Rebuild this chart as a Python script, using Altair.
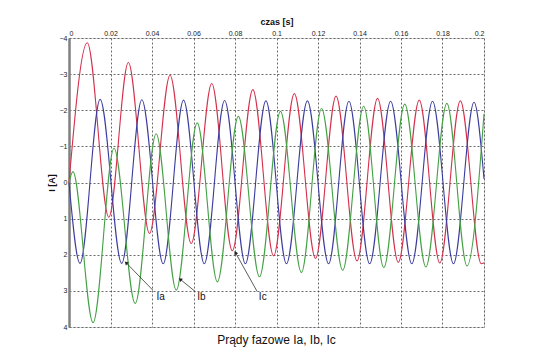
import altair as alt
import pandas as pd
import numpy as np

# ---- data (extrema of each phase current) ----
red_t = [0.0, 0.0088, 0.0192, 0.0286, 0.0388, 0.0487, 0.0589, 0.0688, 0.0787, 0.0886, 0.0986,
         0.1086, 0.1188, 0.1287, 0.1388, 0.1487, 0.1587, 0.1688, 0.1787, 0.1886, 0.1987, 0.2]
red_i = [0.0, -3.87, 0.96, -3.32, 1.41, -2.97, 1.69, -2.74, 1.89, -2.57, 2.03,
         -2.46, 2.10, -2.39, 2.17, -2.33, 2.21, -2.28, 2.23, -2.26, 2.25, 2.22]

blue_t = [0.0, 0.0053, 0.0150, 0.0254, 0.0351, 0.0454, 0.0552, 0.0652, 0.0750, 0.0850, 0.0949,
          0.1048, 0.1149, 0.1251, 0.1349, 0.1449, 0.1550, 0.1652, 0.1752, 0.1853, 0.1952, 0.2]
blue_i = [0.0, 2.24, -2.30, 2.24, -2.29, 2.25, -2.28, 2.25, -2.27, 2.25, -2.26,
          2.25, -2.26, 2.25, -2.25, 2.25, -2.25, 2.25, -2.25, 2.25, -2.22, -0.10]

green_t = [0.0, 0.0019, 0.0116, 0.0217, 0.0319, 0.0420, 0.0517, 0.0618, 0.0715, 0.0816, 0.0918,
           0.1019, 0.1120, 0.1217, 0.1319, 0.1420, 0.1517, 0.1618, 0.1720, 0.1821, 0.1918, 0.2]
green_i = [0.0, -0.30, 3.88, -0.95, 3.35, -1.35, 2.98, -1.65, 2.75, -1.83, 2.61,
           -1.97, 2.49, -2.05, 2.43, -2.11, 2.36, -2.17, 2.34, -2.19, 2.31, -1.90]

phase_names = ["Ic", "Ia", "Ib"]
phase_colors = ["#d4304c", "#3c3c9e", "#43a043"]

x_ticks = [0, 0.02, 0.04, 0.06, 0.08, 0.1, 0.12, 0.14, 0.16, 0.18, 0.2]
y_ticks = [-4, -3, -2, -1, 0, 1, 2, 3, 4]

# annotations (labels, arrow start, arrow tip, label position) in data units
ann_label = ["Ia", "Ib", "Ic"]
ann_t0 = [0.0404, 0.0609, 0.0907]
ann_y0 = [2.98, 3.02, 3.02]
ann_t1 = [0.0275, 0.0536, 0.0802]
ann_y1 = [2.22, 2.68, 1.94]
ann_text_t = [0.0422, 0.0618, 0.0915]
ann_text_y = [3.18, 3.18, 3.18]

rows = []
for name, ts, vs in zip(phase_names, [red_t, blue_t, green_t], [red_i, blue_i, green_i]):
    for t, v in zip(ts, vs):
        rows.append({"t": t, "i": v, "phase": name})
df = pd.DataFrame(rows)

W, H = 415, 289
px_per_t = W / 0.2
px_per_i = H / 8.0
dx = (np.array(ann_t1) - np.array(ann_t0)) * px_per_t
dy = (np.array(ann_y1) - np.array(ann_y0)) * px_per_i
ang = np.degrees(np.arctan2(dx, -dy)) % 360
ann = pd.DataFrame({"label": ann_label, "t0": ann_t0, "y0": ann_y0, "t1": ann_t1, "y1": ann_y1,
                    "tt": ann_text_t, "ty": ann_text_y, "ang": ang})

FONT = "Liberation Sans"
xs = alt.Scale(domain=[0, 0.2], nice=False, zero=False)
ys = alt.Scale(domain=[-4, 4], reverse=True, nice=False, zero=False)

x_axis = alt.Axis(
    orient="top", values=x_ticks, format=".2~f", title="czas [s]",
    grid=True, gridDash=[2, 2], gridColor="#444", gridWidth=0.8,
    ticks=False, domain=False, labelFontSize=7, labelFont=FONT, labelColor="#222",
    labelPadding=2, titleFont=FONT, titleFontSize=9, titleFontWeight="bold",
    titleColor="#111", titlePadding=3)
y_axis = alt.Axis(
    values=y_ticks, format="d", title="I [A]",
    grid=True, gridDash=[2, 2], gridColor="#444", gridWidth=0.8,
    ticks=False, domain=True, domainColor="#808080", domainWidth=2.5,
    labelFontSize=7, labelFont=FONT, labelColor="#222", labelPadding=2,
    titleFont=FONT, titleFontSize=9, titleFontWeight="bold", titleColor="#111",
    titlePadding=3)

lines = alt.Chart(df).mark_line(interpolate="monotone", strokeWidth=1.1).encode(
    x=alt.X("t:Q", scale=xs, axis=x_axis, title="czas [s]"),
    y=alt.Y("i:Q", scale=ys, axis=y_axis, title="I [A]"),
    color=alt.Color("phase:N", scale=alt.Scale(domain=phase_names, range=phase_colors), legend=None),
    order=alt.Order("t:Q"),
)

rules = alt.Chart(ann).mark_rule(color="#333", strokeWidth=0.8).encode(
    x=alt.X("t0:Q", scale=xs, axis=x_axis, title="czas [s]"),
    y=alt.Y("y0:Q", scale=ys, axis=y_axis, title="I [A]"),
    x2="t1:Q", y2="y1:Q")

heads = alt.Chart(ann).mark_point(shape="triangle-up", filled=True, color="#222", size=18, opacity=1).encode(
    x=alt.X("t1:Q", scale=xs, axis=x_axis, title="czas [s]"),
    y=alt.Y("y1:Q", scale=ys, axis=y_axis, title="I [A]"),
    angle=alt.Angle("ang:Q", scale=None))

texts = alt.Chart(ann).mark_text(align="left", baseline="middle", font=FONT, fontSize=10, color="#111").encode(
    x=alt.X("tt:Q", scale=xs, axis=x_axis, title="czas [s]"),
    y=alt.Y("ty:Q", scale=ys, axis=y_axis, title="I [A]"),
    text="label:N")

chart = alt.layer(lines, rules, heads, texts).properties(
    width=W, height=H,
    title=alt.TitleParams("Prądy fazowe Ia, Ib, Ic", orient="bottom", anchor="middle",
                          font=FONT, fontSize=12, fontWeight="normal", color="#111", offset=5),
    autosize=alt.AutoSizeParams(type="none"),
    padding={"left": 69, "top": 38, "right": 49, "bottom": 26},
).configure_view(stroke="#808080", strokeWidth=1).configure(background="white")

chart.save("out.html", embed_options={"renderer": "svg", "actions": False})
